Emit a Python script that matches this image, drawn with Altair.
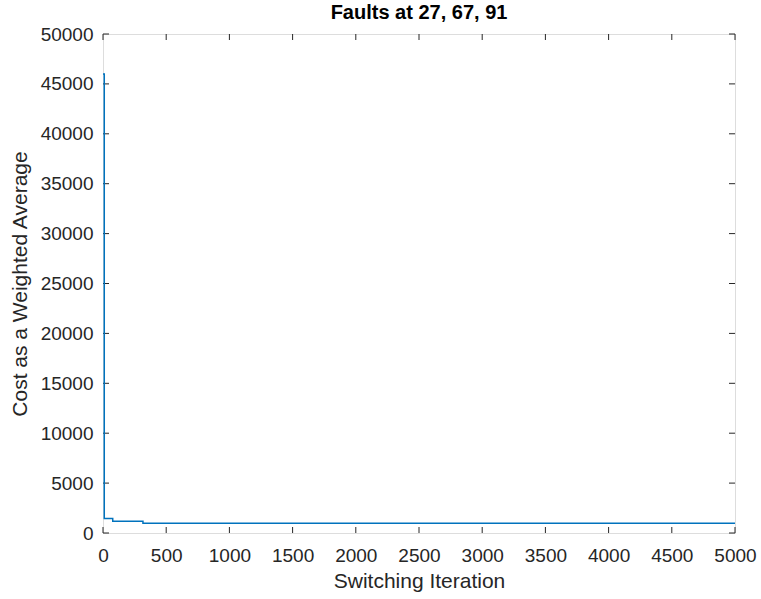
import altair as alt
import pandas as pd

# Step-wise cost trace
iterations = [0, 10, 77, 316, 5000]
cost = [46000, 1450, 1180, 980, 980]

x_ticks = list(range(0, 5001, 500))
y_ticks = list(range(0, 50001, 5000))

W, H = 632, 499
FONT = "Liberation Sans"
AX = "#262626"

line_df = pd.DataFrame({"iter": iterations, "cost": cost})
xt_df = pd.DataFrame({"iter": x_ticks})
yt_df = pd.DataFrame({"cost": y_ticks})

xs = alt.Scale(domain=[0, 5000], nice=False, zero=False)
ys = alt.Scale(domain=[0, 50000], nice=False, zero=False)

line = alt.Chart(line_df).mark_line(
    interpolate="step-after", color="#0072BD", strokeWidth=1.5
).encode(
    x=alt.X("iter:Q", scale=xs, axis=alt.Axis(
        title="Switching Iteration", values=x_ticks, format="d",
        ticks=False, domain=False, grid=False,
        labelFontSize=19, labelPadding=13, labelColor=AX, labelFont=FONT,
        titleFontSize=21, titleFont=FONT, titleColor=AX, titleFontWeight="normal",
        titlePadding=5, labelFlush=False)),
    y=alt.Y("cost:Q", scale=ys, axis=alt.Axis(
        title="Cost as a Weighted Average", values=y_ticks, format="d",
        ticks=False, domain=False, grid=False,
        labelFontSize=19, labelPadding=10, labelColor=AX, labelFont=FONT,
        titleFontSize=21, titleFont=FONT, titleColor=AX, titleFontWeight="normal",
        titlePadding=10, labelFlush=False)),
)

tick_style = dict(color=AX, strokeWidth=1)
xb = alt.Chart(xt_df).mark_rule(**tick_style).encode(
    x=alt.X("iter:Q", scale=xs), y=alt.value(H), y2=alt.value(H - 6))
xtop = alt.Chart(xt_df).mark_rule(**tick_style).encode(
    x=alt.X("iter:Q", scale=xs), y=alt.value(0), y2=alt.value(6))
yl = alt.Chart(yt_df).mark_rule(**tick_style).encode(
    y=alt.Y("cost:Q", scale=ys), x=alt.value(0), x2=alt.value(6))
yr = alt.Chart(yt_df).mark_rule(**tick_style).encode(
    y=alt.Y("cost:Q", scale=ys), x=alt.value(W), x2=alt.value(W - 6))

chart = alt.layer(xb, xtop, yl, yr, line).properties(
    width=W, height=H,
    title=alt.TitleParams("Faults at 27, 67, 91", fontSize=20, fontWeight="bold",
                          font=FONT, color="#000000", anchor="middle", offset=2),
    autosize=alt.AutoSizeParams(type="none"),
    padding={"left": 103, "top": 34, "right": 26, "bottom": 66},
).configure_view(stroke=AX, strokeWidth=1).configure(background="white")

chart.save("out.html", embed_options={"renderer": "svg", "actions": False})
